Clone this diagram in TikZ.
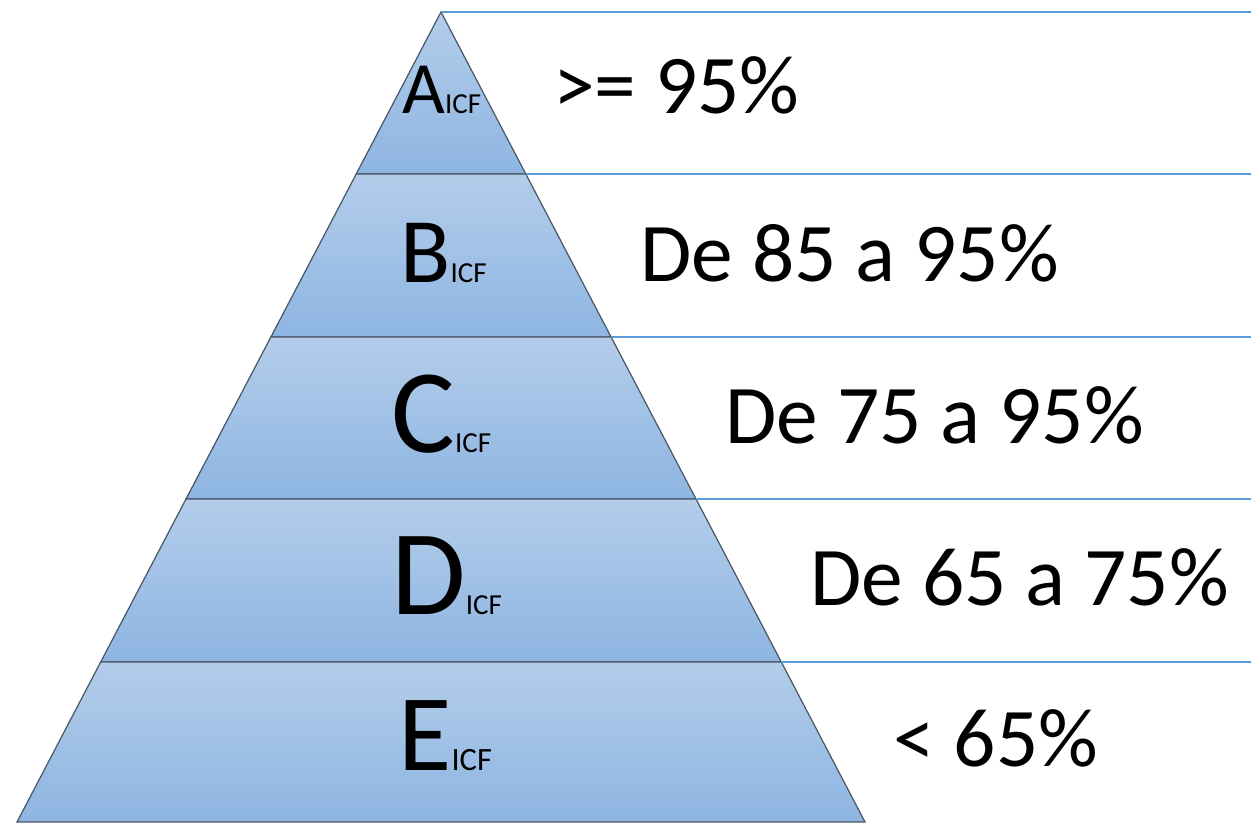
\documentclass[tikz,border=0pt]{standalone}
\usepackage{fontspec}
\setmainfont{Carlito}
\usepackage{tikz}
\usetikzlibrary{positioning, calc}

\definecolor{bandtop}{HTML}{B3CDEA}
\definecolor{bandbot}{HTML}{8EB5E2}
\definecolor{edgegray}{HTML}{4A5866}
\definecolor{ruleblue}{HTML}{5B9BD5}

\begin{document}
\begin{tikzpicture}[x=0.02cm, y=-0.02cm]
\tikzset{
  band/.style={top color=bandtop, bottom color=bandbot, draw=edgegray, line width=0.7pt},
  rule/.style={draw=ruleblue, line width=0.8pt},
  gradelabel/.style={inner sep=0pt, anchor=base west},
  pctlabel/.style={inner sep=0pt, anchor=base west, font=\fontsize{47.5}{50}\selectfont}
}
\useasboundingbox (0,0) rectangle (1251,822);

% pyramid bands
\path[band] (441,12) -- (525.8,174) -- (356.2,174) -- cycle;
\path[band] (356.2,174) -- (525.8,174) -- (611.1,337) -- (270.9,337) -- cycle;
\path[band] (270.9,337) -- (611.1,337) -- (696,499) -- (186,499) -- cycle;
\path[band] (186,499) -- (696,499) -- (781.3,662) -- (100.7,662) -- cycle;
\path[band] (100.7,662) -- (781.3,662) -- (865,822) -- (17,822) -- cycle;

% rules to the right
\draw[rule] (441,12) -- (1251,12);
\draw[rule] (525.8,174) -- (1251,174);
\draw[rule] (611.1,337) -- (1251,337);
\draw[rule] (696,499) -- (1251,499);
\draw[rule] (781.3,662) -- (1251,662);

% grade labels
\node[gradelabel] (gA) at (402,113) {{\fontsize{42}{44}\selectfont A}{\fontsize{16.5}{18}\selectfont ICF}};
\node[gradelabel] (gB) at (400,282) {{\fontsize{52.5}{56}\selectfont B}{\fontsize{16.5}{18}\selectfont ICF}};
\node[gradelabel] (gC) at (391,452) {{\fontsize{68}{72}\selectfont C}{\fontsize{16.5}{18}\selectfont ICF}};
\node[gradelabel] (gD) at (391,614) {{\fontsize{69}{72}\selectfont D}{\fontsize{16.5}{18}\selectfont ICF}};
\node[gradelabel] (gE) at (398,770) {{\fontsize{62}{66}\selectfont E}{\fontsize{18.5}{20}\selectfont ICF}};

% percentages
\node[pctlabel] (pA) at (553,113) {>= 95\%};
\node[pctlabel] (pB) at (640,281) {De 85 a 95\%};
\node[pctlabel] (pC) at (725,443) {De 75 a 95\%};
\node[pctlabel] (pD) at (810,605) {De 65 a 75\%};
\node[pctlabel] (pE) at (893,766) {< 65\%};
\end{tikzpicture}
\end{document}
